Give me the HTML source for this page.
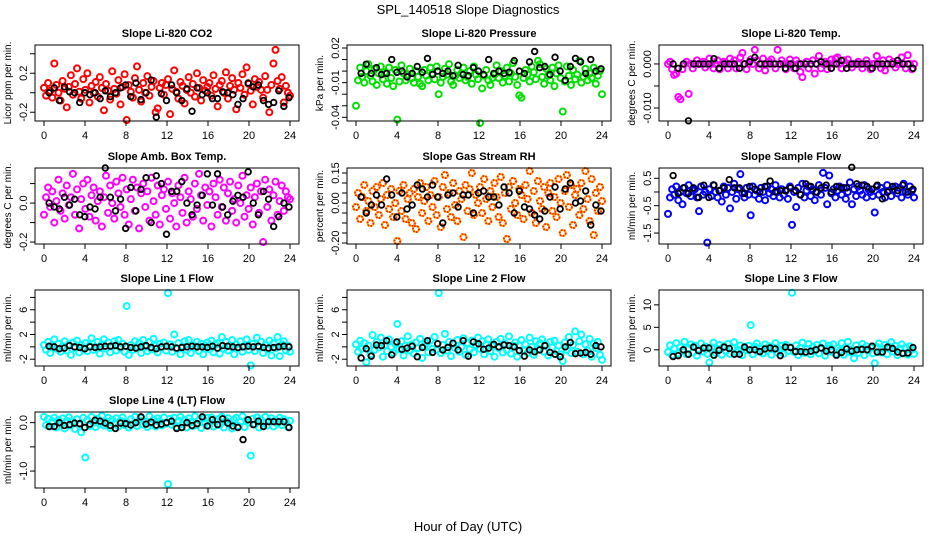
<!DOCTYPE html>
<html><head><meta charset="utf-8"><style>
body{margin:0;background:#fff;}
svg{display:block;font-family:"Liberation Sans",sans-serif;}
</style></head><body>
<svg id="chart" width="936" height="540" viewBox="0 0 936 540" xmlns="http://www.w3.org/2000/svg">
<rect width="936" height="540" fill="#fff"/>
<text x="468" y="14" text-anchor="middle" font-size="13">SPL_140518  Slope Diagnostics</text>
<text x="468" y="531" text-anchor="middle" font-size="13">Hour of Day (UTC)</text>
</svg>
<script>
const co2 = [0.05,-0.03,0.1,0.02,-0.05,0.3,0.08,0.0,-0.08,0.12,0.04,-0.15,0.06,0.18,-0.02,0.09,0.25,0.01,-0.06,0.14,
0.03,0.2,-0.1,0.07,0.0,0.11,-0.04,0.16,0.05,-0.18,0.09,0.02,-0.07,0.22,0.04,-0.01,0.13,-0.12,0.06,0.19,
-0.28,0.08,0.01,-0.05,0.15,0.27,0.03,-0.09,0.1,0.0,0.17,-0.03,0.06,0.12,-0.2,-0.16,0.05,0.1,-0.02,0.08,
0.14,-0.22,0.04,0.23,0.01,-0.06,0.11,0.07,-0.11,0.03,0.16,0.0,0.09,-0.04,0.2,0.05,-0.08,0.13,0.02,0.06,
0.1,-0.03,0.18,0.04,-0.14,0.08,0.12,0.0,0.21,-0.06,0.07,0.15,0.03,-0.17,0.1,0.05,0.19,-0.02,0.26,0.09,
0.02,-0.12,0.14,0.06,0.11,0.03,-0.05,0.17,0.03,-0.2,0.08,0.3,0.44,0.12,0.04,0.16,-0.1,0.07,0.0,-0.03];
const co2Black = [0.0,0.05,-0.08,0.06,0.01,0.0,-0.1,0.0,-0.02,0.0,-0.06,0.02,-0.04,0.0,0.05,0.08,-0.04,0.1,-0.07,0.0,
0.13,-0.25,-0.01,-0.08,0.08,0.0,-0.08,0.04,-0.19,0.05,-0.02,0.0,-0.06,-0.06,0.01,0.0,-0.02,-0.12,-0.06,0.1,
0.06,0.08,-0.08,-0.12,-0.1,0.02,-0.14,-0.05];
const pressure = [-0.03,-0.008,0.003,-0.005,-0.01,0.0,0.006,-0.004,-0.009,0.002,-0.012,-0.002,0.004,-0.007,-0.001,-0.011,0.003,-0.006,-0.013,0.001,
-0.042,-0.009,0.005,-0.002,-0.008,-0.003,0.002,-0.006,-0.01,0.0,-0.005,-0.011,-0.013,0.001,-0.004,-0.008,0.003,-0.002,-0.007,0.004,
-0.02,-0.01,-0.005,0.002,-0.003,0.006,-0.009,-0.012,-0.004,0.001,-0.006,-0.002,0.003,-0.008,-0.005,0.0,-0.011,0.004,-0.003,-0.007,
-0.045,-0.015,-0.004,0.001,-0.008,-0.012,-0.006,-0.003,0.005,-0.006,0.0,-0.01,-0.004,0.003,-0.009,-0.002,0.007,-0.005,-0.012,-0.021,
-0.023,-0.006,0.001,-0.003,-0.009,0.004,-0.001,-0.007,0.009,0.006,-0.005,-0.011,0.002,-0.004,-0.008,0.003,-0.013,-0.002,0.005,-0.006,
-0.035,-0.009,0.004,-0.004,-0.012,0.001,-0.007,-0.003,0.009,-0.01,-0.005,0.002,-0.008,-0.002,-0.006,0.003,-0.011,-0.004,0.0,-0.02];
const pressureBlack = [-0.002,0.006,-0.002,0.003,-0.003,-0.002,0.01,-0.001,
0.0,-0.005,-0.002,0.004,-0.001,0.011,-0.003,0.0,
-0.002,0.0,-0.004,0.005,-0.003,-0.004,0.003,0.0,
-0.003,0.01,-0.002,0.0,-0.002,-0.001,0.009,0.0,
-0.002,0.008,0.017,0.003,0.004,-0.003,0.012,0.0,
-0.008,0.004,0.011,0.008,-0.002,0.01,0.0,0.002];
const temp = [0.0,0.0005,-0.0012,-0.0025,-0.0022,-0.0075,-0.008,-0.0012,0.0,0.0005,-0.0068,0.0,-0.001,0.0,0.0008,0.0,0.0,0.0005,-0.0008,0.0,
0.0012,0.0,-0.001,0.0,0.0008,-0.0012,0.0,0.0005,0.0,-0.001,0.0012,0.0,0.0008,-0.001,0.0,0.0015,0.0025,0.0,-0.0012,0.0,
0.001,0.0,0.0032,0.0008,-0.001,0.0,0.0012,-0.0015,0.0,0.0005,0.001,0.0,-0.001,0.0032,0.0,0.0008,0.0,-0.0012,0.0,0.001,
0.0,-0.001,0.0008,0.0,-0.0018,-0.003,0.0,0.0005,-0.001,0.0,0.0008,-0.0022,0.0,0.0018,-0.001,0.0,0.0005,-0.0012,0.0,0.001,
0.0,0.0012,0.0015,0.0,-0.001,0.0008,0.0,0.001,0.0,-0.0008,0.0,0.0,0.0005,0.0,-0.001,0.0,0.0008,0.0,-0.0012,0.0,
0.0,0.0018,0.0,-0.001,0.0008,-0.0015,0.0,0.001,0.0,0.0005,-0.0008,0.0,0.0,0.0015,0.0,-0.001,0.002,0.0,-0.0012,0.0];
const tempBlack = [0.0,-0.001,0.0,-0.0129,0.0,0.0,0.0,0.0,
0.0012,-0.001,0.0,0.0,0.0,-0.001,0.0,0.0005,
0.0015,0.0,0.0,0.0,0.0,0.0,-0.001,0.0,
-0.001,0.0,0.0,0.0,0.0,0.0005,0.0,-0.001,
0.0,0.0008,-0.001,0.0,0.0,0.0,0.0,-0.001,
0.0,0.0,0.0,0.0,0.0008,0.0,0.0,-0.001];
const ambBox = [-0.06,0.03,0.08,-0.02,0.06,-0.1,0.01,0.12,-0.04,0.05,-0.08,0.09,-0.01,0.03,0.15,-0.06,0.07,-0.13,0.02,0.1,
-0.03,0.12,-0.07,0.04,0.08,-0.09,0.01,0.06,-0.12,0.03,0.14,-0.05,0.09,0.0,-0.08,0.11,0.05,-0.02,0.13,-0.06,
0.07,-0.11,0.02,0.12,-0.04,0.08,-0.13,0.05,0.1,-0.02,0.06,-0.09,0.13,0.01,-0.06,0.09,-0.11,0.04,0.07,-0.03,
0.11,-0.08,0.05,0.0,-0.12,0.09,0.03,-0.05,0.13,-0.1,0.06,0.02,-0.07,0.1,-0.03,0.15,0.04,-0.09,0.08,-0.01,
0.06,-0.12,0.1,0.03,-0.06,0.12,-0.02,0.08,-0.09,0.05,0.11,-0.04,0.02,-0.1,0.09,0.0,0.14,-0.07,0.04,-0.03,
0.08,-0.11,0.03,0.1,-0.05,0.06,-0.2,0.12,-0.02,0.07,-0.09,0.04,0.11,-0.06,0.01,0.09,-0.04,0.06,0.03,0.02];
const ambBoxBlack = [0.0,-0.02,-0.03,0.03,-0.01,0.02,-0.06,-0.07,
-0.02,-0.03,0.03,0.18,0.03,-0.04,0.02,-0.13,
0.08,-0.04,0.07,0.13,-0.1,0.14,0.1,-0.16,
0.06,0.06,0.11,0.0,-0.06,-0.01,0.04,0.15,
-0.01,0.15,-0.02,-0.06,0.01,0.04,0.03,0.16,
0.0,-0.06,0.06,0.02,-0.12,-0.07,0.0,-0.02];
const gasRH = [-0.02,0.05,-0.08,0.03,0.09,-0.04,0.01,-0.1,0.06,-0.02,0.08,-0.06,0.02,0.1,-0.11,0.04,-0.03,0.07,-0.07,0.0,
-0.19,0.06,-0.04,0.09,-0.08,0.02,0.05,-0.1,0.07,-0.13,0.03,0.1,-0.05,0.01,0.08,-0.09,0.04,-0.02,0.11,-0.06,
0.03,-0.12,0.08,0.14,-0.03,0.05,-0.07,0.1,-0.01,-0.09,0.06,0.02,-0.17,0.09,-0.04,0.07,0.15,-0.06,0.04,0.0,
0.08,-0.05,0.12,0.02,-0.09,0.06,-0.02,0.1,0.03,-0.07,0.13,-0.1,0.05,-0.18,0.08,-0.03,0.11,0.0,-0.06,0.07,
0.04,-0.08,0.09,0.02,0.16,-0.05,0.06,-0.1,0.11,0.01,-0.03,0.08,-0.12,0.05,0.1,-0.04,0.03,-0.07,0.12,0.0,
-0.15,0.06,0.14,-0.02,0.09,-0.11,0.04,0.07,-0.06,0.1,-0.03,0.16,0.02,-0.09,0.12,-0.16,0.05,-0.04,0.08,0.01];
const gasRHBlack = [0.03,-0.05,-0.01,0.04,-0.01,0.12,0.04,-0.07,
0.05,-0.03,-0.01,0.09,0.07,0.03,0.09,0.03,
-0.1,0.04,0.05,-0.02,0.04,0.04,-0.05,0.05,
0.06,0.03,0.03,-0.01,0.08,0.05,-0.05,0.06,
-0.02,-0.03,-0.06,-0.08,-0.04,0.03,0.08,-0.03,
0.07,0.1,0.0,0.01,0.06,-0.11,-0.01,-0.04];
const sampleFlow = [-0.8,-0.2,0.1,-0.1,0.2,-0.3,0.0,-0.45,0.15,-0.05,0.25,-0.15,0.05,0.1,-0.2,-0.7,0.2,-0.1,0.0,-1.85,
0.1,-0.15,0.25,0.0,-0.2,0.05,-0.35,0.2,-0.1,0.15,-0.6,0.0,0.3,-0.25,0.1,0.65,-0.05,-0.2,0.15,-0.1,
-0.85,0.2,-0.1,0.05,-0.25,0.15,0.0,-0.3,0.2,-0.05,0.1,-0.15,0.25,0.0,-0.2,0.1,-0.1,0.05,-0.25,0.2,
-1.2,0.0,-0.55,0.15,-0.1,0.3,-0.2,0.05,0.2,-0.15,0.1,-0.3,0.0,0.25,-0.1,0.7,0.15,-0.45,0.6,-0.05,
0.1,-0.2,0.05,0.2,-0.1,0.15,-0.25,0.0,0.35,-0.45,0.1,-0.15,0.2,0.05,-0.1,0.25,-0.2,0.1,0.0,-0.15,
-0.75,0.2,-0.1,0.15,0.0,-0.2,0.25,0.05,-0.15,0.1,0.2,-0.05,0.15,-0.2,0.3,0.0,-0.1,0.2,0.05,-0.2];
const sampleFlowBlack = [0.6,-0.05,0.15,-0.05,0.15,-0.2,0.25,-0.2,
0.25,0.05,0.15,0.45,0.15,0.15,-0.05,0.2,
0.1,0.0,0.2,0.4,0.0,0.05,0.05,0.15,
0.05,-0.1,0.3,0.2,0.0,0.15,0.25,0.0,
0.2,0.15,0.15,0.9,0.3,0.25,0.2,0.1,
0.25,-0.25,0.0,0.2,0.05,0.25,0.0,0.1];
const line1 = [0.3,-0.5,0.8,-1.0,0.2,1.2,-0.3,0.5,-0.8,0.1,0.9,-0.6,0.4,-1.3,0.7,-0.2,1.0,-0.9,0.3,-0.4,
0.6,-0.7,0.2,1.4,-0.5,0.0,0.8,-1.1,0.4,1.2,-0.3,0.7,-0.9,0.1,0.9,-0.6,1.1,-0.2,0.5,-0.8,
6.6,-1.3,0.3,-0.5,0.9,-0.2,0.6,-1.0,1.1,0.0,-0.7,0.8,-0.4,1.3,0.2,-0.9,0.5,-0.1,0.7,-0.6,
8.7,0.4,-0.8,2.0,-0.3,0.6,-1.2,0.1,0.9,-0.5,1.1,-1.0,0.3,-0.2,0.8,-0.7,0.5,-1.2,0.2,0.7,
-0.4,1.0,-0.9,0.3,0.6,-1.1,1.6,-0.3,0.8,-0.6,0.2,1.1,-1.2,0.4,-0.2,0.9,-0.8,0.1,1.2,-0.5,
-3.0,0.5,-0.7,1.5,-0.1,0.8,-1.0,0.3,-0.4,1.0,-1.4,0.6,-0.2,1.6,-1.5,0.4,0.9,-0.6,0.2,-0.8];
const line1Black = [0.1,0.0,-0.3,-0.2,0.2,0.0,-0.1,-0.3,
0.0,-0.1,0.0,0.1,0.1,0.2,0.0,0.1,
-0.1,-0.2,0.0,0.2,-0.1,-0.3,0.0,0.1,
0.0,-0.2,-0.1,0.0,0.1,0.0,0.0,-0.1,
0.1,-0.2,0.2,0.1,0.0,-0.1,0.0,0.1,
0.0,0.1,-0.1,-0.2,-0.1,0.0,0.1,0.0];
const line2 = [0.4,-0.8,1.0,-0.3,0.6,-2.5,0.2,-1.2,1.9,-0.5,0.8,-0.1,1.5,-1.6,0.3,-0.7,1.2,0.0,-1.0,0.5,
3.7,-0.4,0.9,-1.4,0.2,1.7,-0.6,0.4,-1.1,0.7,-0.2,1.3,-1.8,0.1,0.6,-0.9,1.0,-0.3,1.6,-0.5,
8.7,-1.0,0.3,2.1,-0.6,0.8,-1.5,0.5,-0.2,1.1,-0.8,0.0,1.4,-1.3,0.6,-0.4,1.0,-0.9,0.3,1.5,
-0.3,0.9,-1.2,0.4,1.2,-0.7,0.1,-1.6,0.8,-0.2,1.3,-0.9,0.5,-0.5,1.7,-1.1,0.2,0.7,-1.6,0.3,
1.1,-0.6,0.4,-1.0,1.5,0.0,-1.3,0.9,-0.4,0.6,1.2,-0.8,0.3,-1.4,0.8,-0.1,1.0,-0.7,0.2,-1.2,
-2.3,0.7,-0.5,1.6,-1.0,0.3,2.5,-0.8,0.9,2.0,-1.2,0.4,-0.6,1.3,-1.6,0.5,-0.2,0.8,-1.3,-2.1];
const line2Black = [-1.8,-0.3,-1.5,0.3,0.2,1.0,-1.3,0.8,
-0.4,-0.2,0.1,-1.6,-0.1,1.0,-0.9,0.5,
-0.5,-0.1,0.6,-0.5,1.0,-1.5,0.8,0.5,
-0.4,-0.2,0.4,0.0,0.3,0.2,0.0,-0.6,
-1.5,-0.5,-0.8,-0.5,0.2,-0.9,-1.2,-1.6,
0.0,0.7,-1.1,-1.0,-0.9,-1.2,0.2,0.0];
const line3 = [-0.5,1.0,-1.2,0.3,1.5,-0.8,0.6,-0.2,1.8,-1.0,0.4,1.2,-0.6,0.9,-1.3,0.1,1.4,-0.4,0.7,-0.9,
-2.8,0.5,1.6,-0.7,0.2,1.1,-1.1,0.8,-0.3,1.3,-0.9,0.4,1.7,-0.5,0.0,1.0,-1.2,0.6,-0.1,0.9,
5.5,-1.0,0.7,1.4,-0.4,0.2,-0.8,1.2,-0.2,0.8,-1.1,0.5,1.5,-0.6,0.1,0.9,-0.9,1.1,-0.3,0.6,
12.7,-0.5,1.0,-1.2,0.4,1.6,-0.7,0.2,1.3,-1.0,0.7,-0.2,1.1,-0.8,0.5,1.4,-1.3,0.3,0.9,-0.4,
1.2,-0.9,0.4,-0.2,1.5,-1.1,0.6,1.8,-0.5,0.1,-1.9,1.0,-0.7,0.3,1.3,-1.2,0.8,-0.1,0.5,-0.8,
-3.0,0.6,1.4,-0.6,0.2,1.1,-1.0,0.7,1.7,-0.4,0.9,-1.2,0.3,1.2,-0.7,0.5,-1.1,0.8,0.0,-0.9];
const line3Black = [-1.5,-1.3,0.0,-1.0,0.6,-0.2,0.4,0.4,
-1.2,-0.1,0.6,0.3,-1.0,-1.0,0.6,0.0,
0.0,-0.4,0.2,0.4,0.2,-1.3,0.6,0.5,
-0.4,-0.4,-0.5,-0.3,0.0,0.4,-0.3,0.0,
-1.2,-0.6,0.2,-0.3,0.0,0.1,0.0,0.8,
-0.5,-0.5,0.6,0.3,-0.5,-0.8,-0.7,0.5];
const line4 = [0.12,-0.05,0.08,-0.08,0.03,0.1,-0.1,0.05,-0.02,0.09,-0.12,0.04,0.11,-0.06,0.02,-0.13,0.07,-0.04,-0.2,0.1,
-0.72,0.05,-0.07,0.12,0.0,-0.09,0.08,-0.03,0.14,-0.06,0.03,0.1,-0.11,0.06,-0.02,0.09,-0.08,0.04,0.11,-0.05,
0.0,-0.1,0.07,-0.03,0.12,-0.07,0.05,0.1,-0.04,0.02,-0.09,0.13,-0.01,0.06,-0.08,0.09,0.03,-0.06,0.11,-0.02,
-1.27,0.08,-0.05,0.1,-0.09,0.04,0.12,-0.03,0.06,-0.1,0.09,0.01,-0.07,0.13,-0.04,0.05,-0.11,0.08,0.0,0.1,
-0.06,0.11,-0.08,0.03,0.07,-0.05,0.12,-0.1,0.04,0.09,-0.02,-0.12,0.06,0.1,-0.07,0.02,0.13,-0.09,0.05,0.0,
-0.68,0.08,-0.04,0.11,-0.1,0.06,0.0,0.12,-0.06,0.03,0.09,-0.08,0.05,-0.02,0.1,-0.05,0.07,0.02,-0.09,0.04];
const line4Black = [-0.08,-0.08,0.0,-0.06,-0.04,-0.01,-0.02,-0.1,
-0.03,0.05,0.03,-0.01,-0.06,-0.12,-0.01,-0.02,
-0.05,0.0,0.12,-0.03,0.01,-0.05,-0.03,0.0,
0.03,-0.12,-0.1,0.0,-0.06,-0.02,0.12,-0.07,
0.06,-0.04,0.08,-0.01,-0.07,-0.1,-0.35,0.06,
-0.04,0.03,-0.08,0.02,0.02,0.02,0.02,-0.1];
const xTickLabels = ["0","4","8","12","16","20","24"];

const NS = "http://www.w3.org/2000/svg";
const svg = document.getElementById("chart");
function mk(tag, attrs, parent){
  const e = document.createElementNS(NS, tag);
  for (const k in attrs) e.setAttribute(k, attrs[k]);
  (parent||svg).appendChild(e);
  return e;
}
const colLeft = [35, 347, 659];
const rowTop = [45, 168, 290, 412];
const W = 264, H = 76;

function panel(p){
  const left = colLeft[p.col], top = rowTop[p.row], bottom = top + H;
  const g = mk("g", {});
  
  
  const xs = h => left + 9 + h * (246 / 24);
  const ys = v => top + (p.ymax - v) / (p.ymax - p.ymin) * H;
  const t = mk("text", {x: left + W/2, y: top - 8, "text-anchor": "middle", "font-size": 11, "font-weight": "bold"}, g);
  t.textContent = p.title;
  
  
  const yt = mk("text", {transform: `translate(${left-24},${top+H/2}) rotate(-90)`, "text-anchor": "middle", "font-size": 10}, g);
  yt.textContent = p.ylabel;
  
  
  const pts = mk("g", {fill: "none", "stroke-width": 2}, g);
  
  
  const n = p.data.length;
  p.data.forEach((v, i) => {
    const c = mk("circle", {cx: xs(i * 24 / (n - 1)), cy: ys(v), r: 3, stroke: p.color}, pts);
    
    
    if (p.color2) {
      const c2 = mk("circle", {cx: xs(i * 24 / (n - 1)), cy: ys(v), r: 3, stroke: p.color2, "stroke-dasharray": "1.5 1.5"}, pts);
      
      
    }
  });
  const nb = p.black.length;
  p.black.forEach((v, i) => {
    const c = mk("circle", {cx: xs(0.5 + i * 23.4 / (nb - 1)), cy: ys(v), r: 2.8, stroke: "#000", "stroke-width": 1.8}, pts);
    
    
  });
  const box = mk("rect", {x: left, y: top, width: W, height: H, fill: "none", stroke: "#000", "stroke-width": 1}, g);
  
  
  const xa = mk("g", {stroke: "#000", "stroke-width": 1}, g);
  
  
  mk("line", {x1: xs(0), x2: xs(24), y1: bottom, y2: bottom}, xa);
  xTickLabels.forEach(lbl => {
    const h = +lbl;
    mk("line", {x1: xs(h), x2: xs(h), y1: bottom, y2: bottom + 5}, xa);
    const tx = mk("text", {x: xs(h), y: bottom + 18, "text-anchor": "middle", "font-size": 11, stroke: "none", fill: "#000"}, xa);
    tx.textContent = lbl;
    
    
  });
  const ya = mk("g", {stroke: "#000", "stroke-width": 1}, g);
  
  
  const tmin = Math.min(...p.ticks), tmax = Math.max(...p.ticks);
  mk("line", {x1: left, x2: left, y1: ys(tmin), y2: ys(tmax)}, ya);
  p.ticks.forEach(v => {
    mk("line", {x1: left - 5, x2: left, y1: ys(v), y2: ys(v)}, ya);
  });
  p.labels.forEach(([v, s]) => {
    const tx = mk("text", {transform: `translate(${left-8},${ys(v)}) rotate(-90)`, "text-anchor": "middle", "font-size": 11, stroke: "none", fill: "#000"}, ya);
    tx.textContent = s;
    
    
  });
}

panel({name:"co2", col:0,row:0,title:"Slope Li-820 CO2",ylabel:"Licor ppm per min.",data:co2,black:co2Black,color:"#ff0000",
  ymin:-0.29,ymax:0.49,ticks:[-0.2,0,0.2,0.4],labels:[[-0.2,"-0.2"],[0.2,"0.2"]]});
panel({name:"pressure", col:1,row:0,title:"Slope Li-820 Pressure",ylabel:"kPa per min.",data:pressure,black:pressureBlack,color:"#00e000",
  ymin:-0.0432,ymax:0.0226,ticks:[-0.04,-0.03,-0.02,-0.01,0,0.01,0.02],labels:[[0.02,"0.02"],[-0.01,"-0.01"],[-0.04,"-0.04"]]});
panel({name:"temp", col:2,row:0,title:"Slope Li-820 Temp.",ylabel:"degrees C per min.",data:temp,black:tempBlack,color:"#ff00ff",
  ymin:-0.01295,ymax:0.0043,ticks:[-0.01,-0.005,0],labels:[[0,"0.000"],[-0.01,"-0.010"]]});
panel({name:"amb-box-temp", col:0,row:1,title:"Slope Amb. Box Temp.",ylabel:"degrees C per min.",data:ambBox,black:ambBoxBlack,color:"#ff00ff",
  ymin:-0.21,ymax:0.18,ticks:[-0.2,-0.1,0,0.1],labels:[[0,"0.0"],[-0.2,"-0.2"]]});
panel({name:"gas-stream-rh", col:1,row:1,title:"Slope Gas Stream RH",ylabel:"percent per min.",data:gasRH,black:gasRHBlack,color:"#ffb000",color2:"#ff2000",
  ymin:-0.205,ymax:0.175,ticks:[-0.2,-0.15,-0.1,-0.05,0,0.05,0.1,0.15],labels:[[0.15,"0.15"],[0,"0.00"],[-0.2,"-0.20"]]});
panel({name:"sample-flow", col:2,row:1,title:"Slope Sample Flow",ylabel:"ml/min per min.",data:sampleFlow,black:sampleFlowBlack,color:"#0000ff",
  ymin:-1.9,ymax:0.876,ticks:[-1.5,-1,-0.5,0,0.5],labels:[[0.5,"0.5"],[-0.5,"-0.5"],[-1.5,"-1.5"]]});
panel({name:"line1-flow", col:0,row:2,title:"Slope Line 1 Flow",ylabel:"ml/min per min.",data:line1,black:line1Black,color:"#00ffff",
  ymin:-3.1,ymax:9.2,ticks:[-2,0,2,4,6,8],labels:[[6,"6"],[2,"2"],[-2,"-2"]]});
panel({name:"line2-flow", col:1,row:2,title:"Slope Line 2 Flow",ylabel:"ml/min per min.",data:line2,black:line2Black,color:"#00ffff",
  ymin:-3.1,ymax:9.2,ticks:[-2,0,2,4,6,8],labels:[[6,"6"],[2,"2"],[-2,"-2"]]});
panel({name:"line3-flow", col:2,row:2,title:"Slope Line 3 Flow",ylabel:"ml/min per min.",data:line3,black:line3Black,color:"#00ffff",
  ymin:-3.6,ymax:13.3,ticks:[0,5,10],labels:[[10,"10"],[5,"5"],[0,"0"]]});
panel({name:"line4-flow", col:0,row:3,title:"Slope Line 4 (LT) Flow",ylabel:"ml/min per min.",data:line4,black:line4Black,color:"#00ffff",
  ymin:-1.35,ymax:0.22,ticks:[-1,-0.5,0],labels:[[0,"0.0"],[-1,"-1.0"]]});
</script>
</body></html>
